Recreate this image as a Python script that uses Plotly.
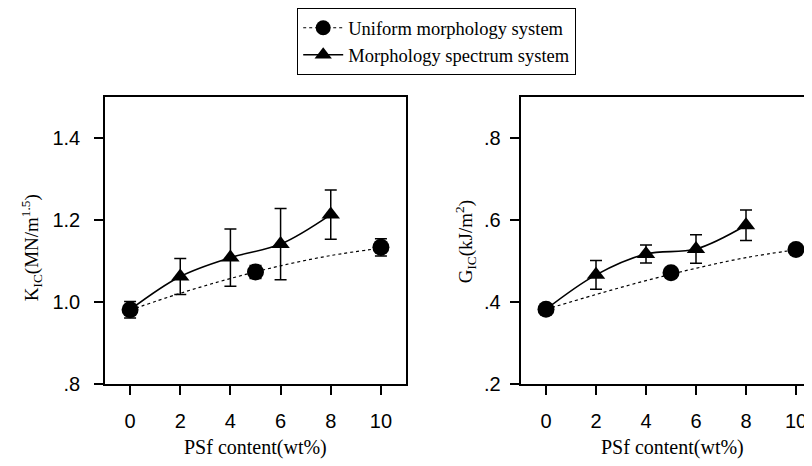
import plotly.graph_objects as go

# ---- data ----
x_uniform = [0, 5, 10]
k_uniform = [0.981, 1.073, 1.133]
k_uniform_err = [0.02, 0.016, 0.021]
g_uniform = [0.382, 0.471, 0.528]

x_fit = [0, 2, 4, 6, 8, 10]
k_fit = [0.98, 1.021, 1.057, 1.088, 1.113, 1.131]
g_fit = [0.382, 0.418, 0.452, 0.482, 0.508, 0.527]

x_spec = [0, 2, 4, 6, 8]
k_spec = [0.981, 1.062, 1.108, 1.141, 1.213]
k_spec_err = [0.0, 0.044, 0.07, 0.087, 0.06]
g_spec = [0.382, 0.466, 0.517, 0.529, 0.587]
g_spec_err = [0.0, 0.035, 0.022, 0.035, 0.037]

x_ticks = [0, 2, 4, 6, 8, 10]
k_ticks = [0.8, 1.0, 1.2, 1.4]
k_ticklabels = [".8", "1.0", "1.2", "1.4"]
g_ticks = [0.2, 0.4, 0.6, 0.8]
g_ticklabels = [".2", ".4", ".6", ".8"]

names = ["Uniform morphology system", "Morphology spectrum system"]
x_title = "PSf content(wt%)"
k_title = "K<sub>IC</sub>(MN/m<sup>1.5</sup>)"
g_title = "G<sub>IC</sub>(kJ/m<sup>2</sup>)"

W, H = 812, 466
SERIF = "Liberation Serif, Times New Roman, serif"
SANS = "Liberation Sans, Arial, sans-serif"

fig = go.Figure()

def add_panel(xa, ya, fit, uni, uni_err, spec, spec_err):
    fig.add_trace(go.Scatter(x=x_fit, y=fit, mode="lines", xaxis=xa, yaxis=ya,
                             line=dict(color="black", width=1.2, dash="dot", shape="spline"),
                             showlegend=False, hoverinfo="skip"))
    fig.add_trace(go.Scatter(x=x_spec, y=spec, mode="lines", xaxis=xa, yaxis=ya,
                             line=dict(color="black", width=1.6, shape="spline"),
                             showlegend=False, hoverinfo="skip"))
    fig.add_trace(go.Scatter(x=x_spec[1:], y=spec[1:], mode="markers", xaxis=xa, yaxis=ya,
                             marker=dict(symbol="triangle-up", size=16, color="black"),
                             error_y=dict(type="data", array=spec_err[1:], color="black",
                                          thickness=1.5, width=6),
                             showlegend=False))
    ey = dict(type="data", array=uni_err, color="black", thickness=1.5, width=6) if uni_err else None
    fig.add_trace(go.Scatter(x=x_uniform, y=uni, mode="markers", xaxis=xa, yaxis=ya,
                             marker=dict(symbol="circle", size=17, color="black"),
                             error_y=ey, showlegend=False))

add_panel("x", "y", k_fit, k_uniform, k_uniform_err, k_spec, k_spec_err)
add_panel("x2", "y2", g_fit, g_uniform, None, g_spec, g_spec_err)

# legend-only traces
fig.add_trace(go.Scatter(x=[None], y=[None], mode="lines+markers", name=names[0],
                         line=dict(color="black", width=1.2, dash="dot"),
                         marker=dict(symbol="circle", size=15, color="black")))
fig.add_trace(go.Scatter(x=[None], y=[None], mode="lines+markers", name=names[1],
                         line=dict(color="black", width=1.6),
                         marker=dict(symbol="triangle-up", size=15, color="black")))

ydom = [1 - 385 / H, 1 - 91 / H]
axis_common = dict(showline=True, linecolor="black", linewidth=1.5, ticks="outside",
                   ticklen=9, tickwidth=1.5, tickcolor="black", showgrid=False, zeroline=False,
                   tickfont=dict(family=SANS, size=20, color="black"))

# trailing spaces push the y tick labels a little further from the axis
k_text = [t + "\u2002" for t in k_ticklabels]
g_text = [t + "\u00a0" for t in g_ticklabels]

fig.update_layout(
    width=W, height=H, margin=dict(l=0, r=0, t=0, b=0),
    paper_bgcolor="white", plot_bgcolor="white",
    xaxis=dict(domain=[97 / W, 398 / W], range=[-1, 11], tickvals=x_ticks, mirror=True,
               ticklabelstandoff=9, **axis_common),
    yaxis=dict(domain=ydom, range=[0.8, 1.5], tickvals=k_ticks, ticktext=k_text,
               mirror=True, **axis_common),
    xaxis2=dict(domain=[513 / W, 1.0], range=[-1, 10.96], tickvals=x_ticks, mirror=True,
                anchor="y2", ticklabelstandoff=9, **axis_common),
    yaxis2=dict(domain=ydom, range=[0.2, 0.9], tickvals=g_ticks, ticktext=g_text,
                anchor="x2", **axis_common),
    legend=dict(x=289 / W, y=1.0, xanchor="left", yanchor="top",
                bordercolor="black", borderwidth=1.2, bgcolor="white",
                font=dict(family=SERIF, size=18.5, color="black"),
                tracegroupgap=0, itemwidth=40),
    annotations=[
        dict(text=x_title, x=(97 + 398) / 2 / W, y=1 - 450 / H, xref="paper", yref="paper",
             xanchor="center", yanchor="middle",
             showarrow=False, font=dict(family=SERIF, size=20, color="black")),
        dict(text=x_title, x=(513 + 815) / 2 / W, y=1 - 450 / H, xref="paper", yref="paper",
             xanchor="center", yanchor="middle",
             showarrow=False, font=dict(family=SERIF, size=20, color="black")),
        dict(text=k_title, x=23 / W, y=1 - 246 / H, xref="paper", yref="paper",
             xanchor="center", yanchor="middle",
             textangle=-90, showarrow=False, font=dict(family=SERIF, size=19, color="black")),
        dict(text=g_title, x=457 / W, y=1 - 240 / H, xref="paper", yref="paper",
             xanchor="center", yanchor="middle",
             textangle=-90, showarrow=False, font=dict(family=SERIF, size=19, color="black")),
    ],
)

fig.write_html("out.html")
